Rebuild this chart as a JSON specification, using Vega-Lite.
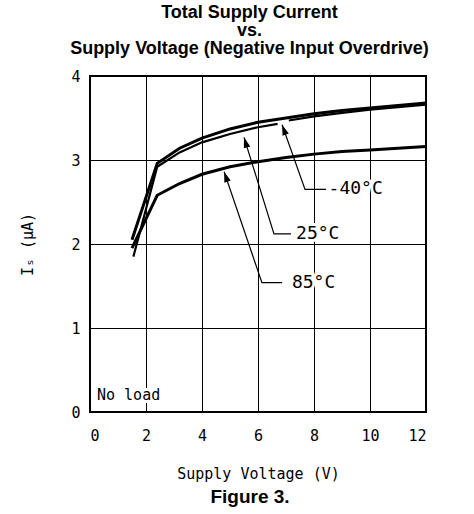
{
  "$schema": "https://vega.github.io/schema/vega-lite/v6.json",
  "background": "white",
  "padding": {"left": 19, "top": 4, "right": 5, "bottom": 5},
  "title": {
    "text": ["Total Supply Current", "vs.", "Supply Voltage (Negative Input Overdrive)"],
    "font": "Liberation Sans",
    "fontWeight": "bold",
    "fontSize": 18,
    "lineHeight": 18,
    "color": "black",
    "anchor": "middle",
    "dx": 23,
    "offset": 10
  },
  "datasets": {
    "curves": [
      {"t": "-40°C", "seg": "a", "v": 1.5, "i": 2.05},
      {"t": "-40°C", "seg": "a", "v": 2.4, "i": 2.96},
      {"t": "-40°C", "seg": "a", "v": 3.2, "i": 3.14},
      {"t": "-40°C", "seg": "a", "v": 4, "i": 3.26},
      {"t": "-40°C", "seg": "a", "v": 5, "i": 3.37},
      {"t": "-40°C", "seg": "a", "v": 6, "i": 3.45},
      {"t": "-40°C", "seg": "a", "v": 7, "i": 3.5},
      {"t": "-40°C", "seg": "a", "v": 8, "i": 3.55},
      {"t": "-40°C", "seg": "a", "v": 9, "i": 3.59},
      {"t": "-40°C", "seg": "a", "v": 10, "i": 3.62},
      {"t": "-40°C", "seg": "a", "v": 11, "i": 3.65},
      {"t": "-40°C", "seg": "a", "v": 12, "i": 3.68},
      {"t": "25°C", "seg": "a", "v": 1.55, "i": 1.85},
      {"t": "25°C", "seg": "a", "v": 2.4, "i": 2.92},
      {"t": "25°C", "seg": "a", "v": 3.2, "i": 3.09},
      {"t": "25°C", "seg": "a", "v": 4, "i": 3.21},
      {"t": "25°C", "seg": "a", "v": 5, "i": 3.31},
      {"t": "25°C", "seg": "a", "v": 6, "i": 3.39},
      {"t": "25°C", "seg": "a", "v": 6.7, "i": 3.43},
      {"t": "25°C", "seg": "b", "v": 7.1, "i": 3.47},
      {"t": "25°C", "seg": "b", "v": 8, "i": 3.52},
      {"t": "25°C", "seg": "b", "v": 9, "i": 3.56},
      {"t": "25°C", "seg": "b", "v": 10, "i": 3.6},
      {"t": "25°C", "seg": "b", "v": 11, "i": 3.63},
      {"t": "25°C", "seg": "b", "v": 12, "i": 3.66},
      {"t": "85°C", "seg": "a", "v": 1.5, "i": 1.95},
      {"t": "85°C", "seg": "a", "v": 2.4, "i": 2.58},
      {"t": "85°C", "seg": "a", "v": 3.2, "i": 2.72},
      {"t": "85°C", "seg": "a", "v": 4, "i": 2.83},
      {"t": "85°C", "seg": "a", "v": 5, "i": 2.92},
      {"t": "85°C", "seg": "a", "v": 6, "i": 2.98},
      {"t": "85°C", "seg": "a", "v": 7, "i": 3.03},
      {"t": "85°C", "seg": "a", "v": 8, "i": 3.07},
      {"t": "85°C", "seg": "a", "v": 9, "i": 3.1},
      {"t": "85°C", "seg": "a", "v": 10, "i": 3.12},
      {"t": "85°C", "seg": "a", "v": 11, "i": 3.14},
      {"t": "85°C", "seg": "a", "v": 12, "i": 3.16}
    ],
    "leaders": [
      {"lbl": "-40°C", "ord": 1, "v": 6.86, "i": 3.42},
      {"lbl": "-40°C", "ord": 2, "v": 7.68, "i": 2.65},
      {"lbl": "-40°C", "ord": 3, "v": 8.43, "i": 2.65},
      {"lbl": "25°C", "ord": 1, "v": 5.5, "i": 3.27},
      {"lbl": "25°C", "ord": 2, "v": 6.57, "i": 2.12},
      {"lbl": "25°C", "ord": 3, "v": 7.18, "i": 2.12},
      {"lbl": "85°C", "ord": 1, "v": 4.79, "i": 2.86},
      {"lbl": "85°C", "ord": 2, "v": 6.14, "i": 1.54},
      {"lbl": "85°C", "ord": 3, "v": 6.86, "i": 1.54}
    ],
    "labels": [
      {"lbl": "-40°C", "v": 8.52, "i": 2.65},
      {"lbl": "25°C", "v": 7.36, "i": 2.12},
      {"lbl": "85°C", "v": 7.21, "i": 1.54}
    ],
    "notes": [
      {"txt": "No load", "v": 0.25, "i": 0.2}
    ]
  },
  "vconcat": [
    {
      "width": 336,
      "height": 336,
      "title": {
        "text": "Figure 3.",
        "orient": "bottom",
        "font": "Liberation Sans",
        "fontWeight": "bold",
        "fontSize": 19,
        "color": "black",
        "anchor": "middle",
        "dx": -8,
        "offset": 7
      },
      "encoding": {
        "x": {
          "field": "v",
          "type": "quantitative",
          "scale": {"domain": [0, 12], "nice": false, "zero": false},
          "axis": {
            "values": [0, 2, 4, 6, 8, 10, 12],
            "title": "Supply Voltage (V)",
            "labelPadding": 16,
            "titlePadding": 23
          }
        },
        "y": {
          "field": "i",
          "type": "quantitative",
          "scale": {"domain": [0, 4], "nice": false},
          "axis": {
            "values": [0, 1, 2, 3, 4],
            "title": "Iₛ (μA)",
            "labelPadding": 10,
            "titlePadding": 35
          }
        }
      },
      "layer": [
        {
          "data": {"name": "curves"},
          "transform": [{"filter": "datum.t != '25°C'"}],
          "mark": {"type": "line", "color": "black", "strokeWidth": 3, "strokeJoin": "miter", "strokeCap": "butt"},
          "encoding": {
            "detail": [{"field": "t"}, {"field": "seg"}],
            "order": {"field": "v", "type": "quantitative"}
          }
        },
        {
          "data": {"name": "curves"},
          "transform": [{"filter": "datum.t == '25°C'"}],
          "mark": {"type": "line", "color": "black", "strokeWidth": 2.2, "strokeJoin": "miter", "strokeCap": "butt"},
          "encoding": {
            "detail": [{"field": "t"}, {"field": "seg"}],
            "order": {"field": "v", "type": "quantitative"}
          }
        },
        {
          "data": {"name": "leaders"},
          "mark": {"type": "line", "color": "black", "strokeWidth": 1.2},
          "encoding": {
            "detail": {"field": "lbl"},
            "order": {"field": "ord", "type": "quantitative"}
          }
        },
        {
          "data": {"name": "leaders"},
          "transform": [{"filter": "datum.ord == 1 && datum.lbl == '-40°C'"}],
          "mark": {"type": "point", "shape": "M0,0L0.32,1L-0.32,1Z", "filled": true, "color": "black", "opacity": 1, "size": 441, "angle": 340}
        },
        {
          "data": {"name": "leaders"},
          "transform": [{"filter": "datum.ord == 1 && datum.lbl == '25°C'"}],
          "mark": {"type": "point", "shape": "M0,0L0.32,1L-0.32,1Z", "filled": true, "color": "black", "opacity": 1, "size": 441, "angle": 343}
        },
        {
          "data": {"name": "leaders"},
          "transform": [{"filter": "datum.ord == 1 && datum.lbl == '85°C'"}],
          "mark": {"type": "point", "shape": "M0,0L0.32,1L-0.32,1Z", "filled": true, "color": "black", "opacity": 1, "size": 441, "angle": 341}
        },
        {
          "data": {"name": "labels"},
          "mark": {"type": "text", "align": "left", "baseline": "middle", "font": "DejaVu Sans Mono", "fontSize": 18, "color": "white", "stroke": "white", "strokeWidth": 6},
          "encoding": {"text": {"field": "lbl"}}
        },
        {
          "data": {"name": "labels"},
          "mark": {"type": "text", "align": "left", "baseline": "middle", "font": "DejaVu Sans Mono", "fontSize": 18, "color": "black"},
          "encoding": {"text": {"field": "lbl"}}
        },
        {
          "data": {"name": "notes"},
          "mark": {"type": "text", "align": "left", "baseline": "middle", "font": "DejaVu Sans Mono", "fontSize": 15, "color": "white", "stroke": "white", "strokeWidth": 6},
          "encoding": {"text": {"field": "txt"}}
        },
        {
          "data": {"name": "notes"},
          "mark": {"type": "text", "align": "left", "baseline": "middle", "font": "DejaVu Sans Mono", "fontSize": 15, "color": "black"},
          "encoding": {"text": {"field": "txt"}}
        }
      ]
    }
  ],
  "config": {
    "view": {"stroke": "black", "strokeWidth": 2},
    "axis": {
      "grid": true,
      "gridColor": "black",
      "gridOpacity": 1,
      "gridWidth": 1,
      "ticks": false,
      "domain": false,
      "labelFont": "DejaVu Sans Mono",
      "labelFontSize": 15,
      "labelColor": "black",
      "titleFont": "DejaVu Sans Mono",
      "titleFontSize": 15,
      "titleFontWeight": "normal",
      "titleColor": "black"
    }
  }
}
